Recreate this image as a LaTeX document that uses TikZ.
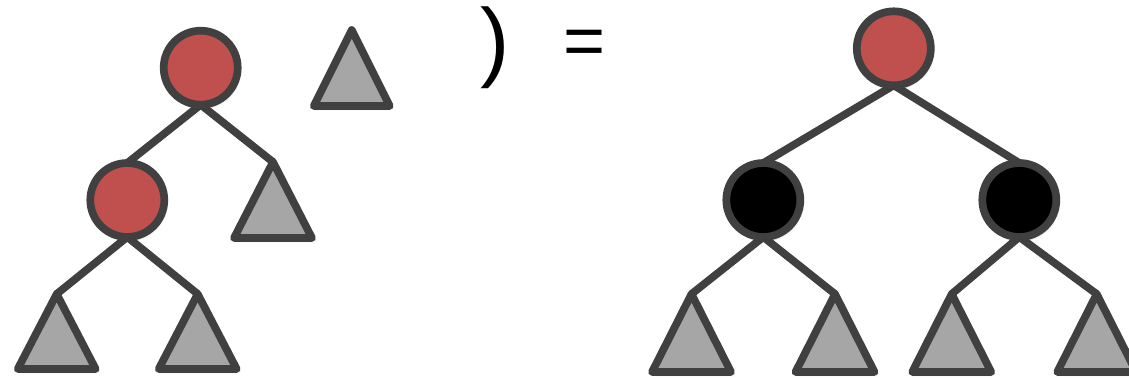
\documentclass[tikz,border=0pt]{standalone}
\usepackage{fontspec}
\setmainfont{Liberation Sans}
\usetikzlibrary{shadows.blur}
\definecolor{rbred}{HTML}{C0504D}
\definecolor{rbgray}{HTML}{A6A6A6}
\definecolor{rbline}{HTML}{404040}
\tikzset{
  shad/.style={blur shadow={shadow blur steps=6, shadow xshift=1.5pt, shadow yshift=-2pt, shadow opacity=30, shadow blur radius=3pt}},
  edge/.style={draw=rbline, line width=7.7pt},
  rednode/.style={circle, draw=rbline, fill=rbred, line width=7.7pt, minimum size=74pt, inner sep=0pt, shad},
  blacknode/.style={circle, draw=rbline, fill=black, line width=7.7pt, minimum size=74pt, inner sep=0pt, shad},
  tri/.style={draw=rbline, fill=rbgray, line width=7.7pt, line join=round, shad},
  sym/.style={inner sep=0pt}
}
\begin{document}
\begin{tikzpicture}[x=1pt,y=-1pt]
\useasboundingbox (0,0) rectangle (1129,378);
% triangle apexes
\coordinate (Lt1) at (273,162);
\coordinate (Lt2) at (56.7,294);
\coordinate (Lt3) at (197.7,294);
\coordinate (St) at (351.7,30);
\coordinate (Rt1) at (691.5,294);
\coordinate (Rt2) at (835,294);
\coordinate (Rt3) at (951.7,294);
\coordinate (Rt4) at (1096.7,294);
% circle centres
\path (200.7,67.7) coordinate (La) (127.3,200) coordinate (Lb)
      (893.8,48.3) coordinate (Ra) (763.3,200) coordinate (Rb) (1019.3,200) coordinate (Rc);
\path (La) ++(0,37) coordinate (LaS) (Lb) ++(0,-37) coordinate (LbN) (Lb) ++(0,37) coordinate (LbS);
\path (Ra) ++(0,37) coordinate (RaS) (Rb) ++(0,-37) coordinate (RbN) (Rb) ++(0,37) coordinate (RbS)
      (Rc) ++(0,-37) coordinate (RcN) (Rc) ++(0,37) coordinate (RcS);
% edges
\draw[edge] (LaS) -- (LbN);
\draw[edge] (LaS) -- (Lt1);
\draw[edge] (LbS) -- (Lt2);
\draw[edge] (LbS) -- (Lt3);
\draw[edge] (RaS) -- (RbN);
\draw[edge] (RaS) -- (RcN);
\draw[edge] (RbS) -- (Rt1);
\draw[edge] (RbS) -- (Rt2);
\draw[edge] (RcS) -- (Rt3);
\draw[edge] (RcS) -- (Rt4);
% triangles
\draw[tri] (St) -- ++(-38,76) -- ++(76,0) -- cycle;
\draw[tri] (Lt1) -- ++(-39,76) -- ++(78,0) -- cycle;
\draw[tri] (Lt2) -- ++(-39,75) -- ++(78,0) -- cycle;
\draw[tri] (Lt3) -- ++(-39,75) -- ++(78,0) -- cycle;
\draw[tri] (Rt1) -- ++(-39.5,78) -- ++(79,0) -- cycle;
\draw[tri] (Rt2) -- ++(-39.5,78) -- ++(79,0) -- cycle;
\draw[tri] (Rt3) -- ++(-39.5,78) -- ++(79,0) -- cycle;
\draw[tri] (Rt4) -- ++(-39.5,78) -- ++(79,0) -- cycle;
% circles
\node[rednode] (na) at (La) {};
\node[rednode] (nb) at (Lb) {};
\node[rednode] (ra) at (Ra) {};
\node[blacknode] (rb) at (Rb) {};
\node[blacknode] (rc) at (Rc) {};
% symbols
\node[sym, font=\fontsize{88}{96}\selectfont] (paren) at (495,48) {)};
\node[sym, font=\fontsize{72}{80}\selectfont] (eq) at (584.7,48) {=};
\end{tikzpicture}
\end{document}
